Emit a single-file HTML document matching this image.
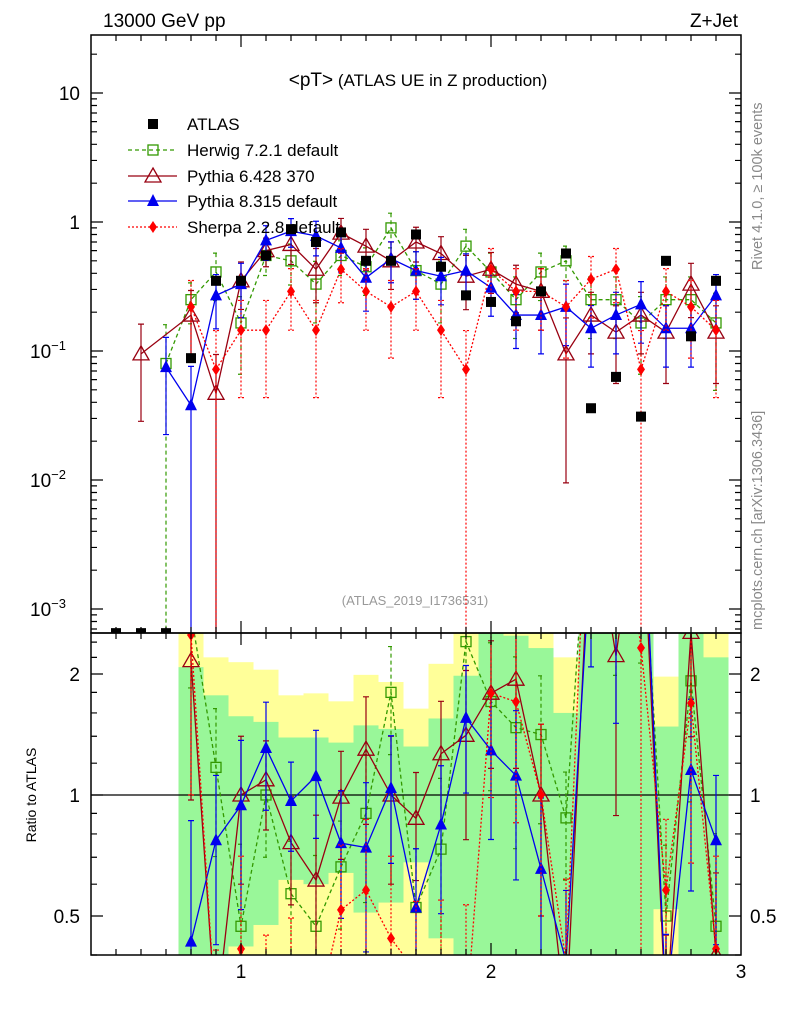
<!DOCTYPE html>
<html><head><meta charset="utf-8"><style>
html,body{margin:0;background:#fff;width:786px;height:1024px;overflow:hidden;}
svg{display:block;font-family:"Liberation Sans",sans-serif;}
</style></head><body>
<svg id="c" width="786" height="1024" viewBox="0 0 786 1024" xmlns="http://www.w3.org/2000/svg">
<defs>
<clipPath id="cm"><rect x="91" y="35" width="650" height="598"/></clipPath>
<clipPath id="cr"><rect x="91" y="633" width="650" height="322"/></clipPath>
</defs>
<text x="103" y="27" font-size="19">13000 GeV pp</text>
<text x="738" y="27" font-size="19" text-anchor="end">Z+Jet</text>
<text x="418" y="86" font-size="17" text-anchor="middle"><tspan font-size="19">&lt;pT&gt;</tspan> (ATLAS UE in Z production)</text>
<text x="415" y="605" font-size="13" fill="#999" text-anchor="middle">(ATLAS_2019_I1736531)</text>
<text transform="translate(762,270) rotate(-90)" font-size="14.5" fill="#888">Rivet 4.1.0, ≥ 100k events</text>
<text transform="translate(762,630) rotate(-90)" font-size="14.5" fill="#888">mcplots.cern.ch [arXiv:1306.3436]</text>
<text transform="translate(36,795) rotate(-90)" font-size="14" text-anchor="middle">Ratio to ATLAS</text>
<g id="bands" clip-path="url(#cr)"></g>
<g id="mainG" clip-path="url(#cm)"></g>
<g id="ratG" clip-path="url(#cr)"></g>
<g id="axes"></g>
<g id="legend"></g>
</svg>
<script>
const xs=[0.5,0.6,0.7,0.8,0.9,1.0,1.1,1.2,1.3,1.4,1.5,1.6,1.7,1.8,1.9,2.0,2.1,2.2,2.3,2.4,2.5,2.6,2.7,2.8,2.9];
const atlasVals=[0.00065,0.00065,0.00065,0.088,0.35,0.35,0.55,0.88,0.7,0.83,0.5,0.5,0.8,0.45,0.27,0.24,0.17,0.29,0.57,0.036,0.063,0.031,0.5,0.13,0.35];
const herwigVals=[null,null,0.08,0.25,0.41,0.165,0.55,0.5,0.33,0.55,0.45,0.9,0.42,0.33,0.65,0.41,0.25,0.41,0.5,0.25,0.25,0.165,0.25,0.25,0.165];
const herwigErr=[0,0,1,0.35,0.4,0.6,0.3,0.35,0.5,0.3,0.4,0.3,0.4,0.5,0.35,0.4,0.5,0.4,0.3,0.5,0.5,0.6,0.5,0.5,0.7];
const py6Vals=[null,0.095,null,0.19,0.047,0.35,0.6,0.67,0.43,0.82,0.65,0.5,0.7,0.57,0.38,0.43,0.33,0.29,0.095,0.19,0.14,0.19,0.14,0.33,0.14];
const py6Err=[0,0.7,0,0.55,1,0.4,0.25,0.3,0.45,0.3,0.35,0.4,0.3,0.35,0.45,0.35,0.4,0.5,0.9,0.5,0.6,0.5,0.6,0.45,0.6];
const py8Vals=[null,null,0.075,0.038,0.27,0.33,0.72,0.85,0.78,0.63,0.37,0.52,0.42,0.38,0.42,0.31,0.19,0.19,0.22,0.15,0.19,0.23,0.15,0.15,0.27];
const py8Err=[0,0,0.7,1,0.45,0.45,0.3,0.25,0.3,0.35,0.45,0.35,0.4,0.4,0.35,0.4,0.45,0.5,0.5,0.5,0.5,0.5,0.5,0.5,0.45];
const sherpaVals=[null,null,null,0.22,0.072,0.145,0.145,0.29,0.145,0.43,0.29,0.22,0.29,0.145,0.072,0.43,0.29,0.29,0.22,0.36,0.43,0.072,0.29,0.22,0.145];
const sherpaErr=[0,0,0,0.6,1,0.7,0.7,0.5,0.7,0.45,0.5,0.6,0.5,0.7,1,0.45,0.5,0.5,0.6,0.5,0.45,1,0.5,0.6,0.7];
const bandXs=[0.8,0.9,1.0,1.1,1.2,1.3,1.4,1.5,1.6,1.7,1.8,1.9,2.0,2.1,2.2,2.3,2.4,2.5,2.6,2.7,2.8,2.9];
const yellowHi=[2.6,2.2,2.14,2.05,1.77,1.79,1.71,1.99,1.91,1.64,2.12,2.6,2.6,2.6,2.6,2.2,2.6,2.6,2.6,1.97,2.6,2.6];
const greenHi=[2.08,1.77,1.57,1.52,1.39,1.39,1.35,1.49,1.46,1.32,1.55,1.98,2.6,2.49,2.32,1.6,2.6,2.6,2.6,1.48,2.6,2.2];
const greenLo=[0.3,0.3,0.42,0.475,0.615,0.6,0.64,0.51,0.54,0.68,0.44,0.3,0.3,0.3,0.3,0.3,0.3,0.3,0.3,0.52,0.3,0.3];
const yellowLo=[0.3,0.3,0.3,0.3,0.3,0.3,0.3,0.3,0.3,0.3,0.3,0.3,0.3,0.3,0.3,0.3,0.3,0.3,0.3,0.3,0.3,0.3];
const xTicks=[1,2,3];
const yTickVals=[10,1,0.1,0.01,0.001];
const rTicks=[2,1,0.5];

const NS="http://www.w3.org/2000/svg";
const X=v=>91+(v-0.4)*250;
const Y=v=>222-129*Math.log10(v);
const R=v=>795-402*Math.log10(v);
function mk(tag,attrs,parent){const e=document.createElementNS(NS,tag);for(const k in attrs)e.setAttribute(k,attrs[k]);parent.appendChild(e);return e;}
const mainG=document.getElementById('mainG'),ratG=document.getElementById('ratG'),bands=document.getElementById('bands'),axes=document.getElementById('axes'),leg=document.getElementById('legend');

bandXs.forEach((b,i)=>{
  const x0=X(b-0.05),w=25;
  let e=mk('rect',{x:x0,y:R(yellowHi[i]),width:w,height:R(yellowLo[i])-R(yellowHi[i]),fill:'#ffff99'},bands);
  
  
  e=mk('rect',{x:x0,y:R(greenHi[i]),width:w,height:R(greenLo[i])-R(greenHi[i]),fill:'#99f799'},bands);
  
  
});
let ref=mk('line',{x1:91,x2:741,y1:R(1),y2:R(1),stroke:'#000','stroke-width':1.3},ratG);



function marker(type,x,y,col,g){
  let e;
  if(type==='sq')e=mk('rect',{x:x-5,y:y-5,width:10,height:10,fill:'#000'},g);
  else if(type==='osq')e=mk('rect',{x:x-5,y:y-5,width:10,height:10,fill:'none',stroke:col,'stroke-width':1.3},g);
  else if(type==='otri')e=mk('path',{d:`M${x},${y-8}L${x+8},${y+6}L${x-8},${y+6}Z`,fill:'none',stroke:col,'stroke-width':1.3},g);
  else if(type==='tri')e=mk('path',{d:`M${x},${y-7}L${x+6},${y+5}L${x-6},${y+5}Z`,fill:col},g);
  else e=mk('path',{d:`M${x},${y-6}L${x+4},${y}L${x},${y+6}L${x-4},${y}Z`,fill:col},g);
  return e;
}
function series(name,vals,errs,col,dash,type,ratio){
  const g=ratio?ratG:mainG;
  const F=ratio?R:Y;
  const bottom=ratio?960:640;
  const pts=[];
  vals.forEach((v,i)=>{
    if(v==null)return;
    let val=v,err=errs?errs[i]*v:0;
    if(ratio){ if(i<3)return; val=v/atlasVals[i]; err=errs?errs[i]*val:0; }
    pts.push([X(xs[i]),F(val),val,err]);
  });
  if(name!=='atlas'){
    const l=mk('polyline',{points:pts.map(p=>p[0]+','+Math.max(-50,Math.min(1020,p[1]))).join(' '),fill:'none',stroke:col,'stroke-width':1.3,'stroke-dasharray':dash},g);
    
    
  }
  pts.forEach(p=>{
    if(p[3]>0){
      const lo=p[2]-p[3]>0?Math.min(bottom,F(p[2]-p[3])):bottom, hi=Math.max(0,F(p[2]+p[3]));
      const e=mk('path',{d:`M${p[0]},${hi}V${lo}M${p[0]-3},${hi}H${p[0]+3}M${p[0]-3},${lo}H${p[0]+3}`,stroke:col,'stroke-width':1.2,fill:'none','stroke-dasharray':dash},g);
      
      
    }
    if(p[1]<0||p[1]>1020)return;
    const m=marker(type,p[0],p[1],col,g);
    
    
  });
}
const S=[['herwig',herwigVals,herwigErr,'#339900','4,3','osq'],['pythia6',py6Vals,py6Err,'#990011','','otri'],['pythia8',py8Vals,py8Err,'#0000ee','','tri'],['sherpa',sherpaVals,sherpaErr,'#ff0000','2,2','dia']];
S.forEach(s=>series(s[0],s[1],s[2],s[3],s[4],s[5],false));
series('atlas',atlasVals,null,'#000','','sq',false);
S.forEach(s=>series(s[0],s[1],s[2],s[3],s[4],s[5],true));

let f=mk('rect',{x:91,y:35,width:650,height:598,fill:'none',stroke:'#000','stroke-width':1.5},axes);

f=mk('rect',{x:91,y:633,width:650,height:322,fill:'none',stroke:'#000','stroke-width':1.5},axes);

let tk='';
for(let v=0.5;v<3;v+=0.1){const x=X(v),big=Math.abs(v-Math.round(v))<0.01;const L=big?12:6;
  tk+=`M${x},633V${633-L}M${x},35V${35+L}M${x},955V${955-L}M${x},633V${633+L}`;}
for(let d=-4;d<=1;d++)for(let m=1;m<10;m++){const v=m*Math.pow(10,d);const y=Y(v);if(y<35||y>633)continue;const L=m===1?12:6;tk+=`M91,${y}H${91+L}M741,${y}H${741-L}`;}
[0.4,0.5,0.6,0.7,0.8,0.9,1,1.2,1.4,1.6,1.8,2,2.2,2.4].forEach(v=>{const y=R(v);if(y<633||y>955)return;const L=(v===0.5||v===1||v===2)?12:6;tk+=`M91,${y}H${91+L}M741,${y}H${741-L}`;});
f=mk('path',{d:tk,stroke:'#000','stroke-width':1.2,fill:'none'},axes);

xTicks.forEach(v=>{const t=mk('text',{x:X(v),y:978,'font-size':19,'text-anchor':'middle'},axes);t.textContent=v;
  });
const ylab=['10','1','10<tspan dy="-8" font-size="13">−1</tspan>','10<tspan dy="-8" font-size="13">−2</tspan>','10<tspan dy="-8" font-size="13">−3</tspan>'];
yTickVals.forEach((v,i)=>{const t=mk('text',{x:i<2?80:66,y:Y(v)+7,'font-size':19,'text-anchor':'end'},axes);t.innerHTML=ylab[i];
  });
rTicks.forEach(v=>{[[80,'end'],[750,'start']].forEach(([x,a])=>{const t=mk('text',{x:x,y:R(v)+7,'font-size':19,'text-anchor':a},axes);t.textContent=v;
  });});

const LG=[['ATLAS','#000','','sq',124],['Herwig 7.2.1 default','#339900','4,3','osq',150],['Pythia 6.428 370','#990011','','otri',176],['Pythia 8.315 default','#0000ee','','tri',201],['Sherpa 2.2.8 default','#ff0000','2,2','dia',227]];
LG.forEach(l=>{
  const g=mk('g',{},leg);
  
  
  if(l[3]!=='sq')mk('line',{x1:128,x2:177,y1:l[4],y2:l[4],stroke:l[1],'stroke-width':1.3,'stroke-dasharray':l[2]},g);
  marker(l[3],153,l[4],l[1],g);
  const t=mk('text',{x:187,y:l[4]+6,'font-size':17},g);t.textContent=l[0];
});
</script>
</body></html>
